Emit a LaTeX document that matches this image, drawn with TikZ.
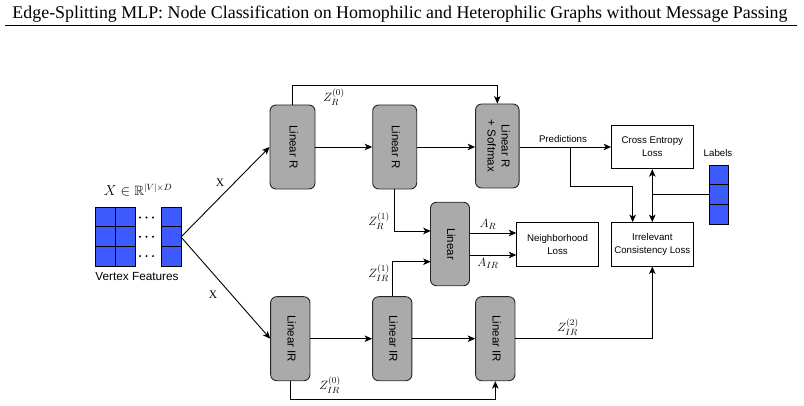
\documentclass[tikz,border=0pt]{standalone}
\usepackage{amsmath}
\usepackage{amssymb}
\usepackage{xcolor}
\usepackage{graphicx}
\usepackage[no-math]{fontspec}
\setmainfont{Liberation Serif}
\setsansfont{Liberation Sans}
\usetikzlibrary{arrows.meta,calc}
\definecolor{featblue}{RGB}{61,90,254}
\definecolor{boxgray}{RGB}{170,170,170}
\newcommand{\vtext}[1]{\rotatebox{-90}{\begin{tabular}{@{}c@{}}#1\end{tabular}}}
\tikzset{
  layer/.style={draw=black!85, fill=boxgray, rounded corners=6pt, line width=0.9pt, inner sep=0pt,
    minimum height=84, font=\sffamily\fontsize{11.5}{14}\selectfont},
  loss/.style={draw, fill=white, line width=0.9pt, inner sep=0pt, align=center,
    minimum width=81.5, minimum height=43.5, font=\sffamily\fontsize{9.7}{13}\selectfont},
  cell/.style={draw, fill=featblue, line width=0.8pt},
  lbl/.style={font=\fontsize{13}{14}\selectfont},
  small/.style={font=\sffamily\fontsize{9.7}{12}\selectfont},
  conn/.style={line width=0.9pt, >={Stealth[length=7.5pt,width=6.5pt,inset=2pt]}}
}

\begin{document}
\begin{tikzpicture}[x=1pt, y=-1pt]
  \useasboundingbox (0,0) rectangle (804,406);
  % \draw[help lines] (0,0) grid[step=50] (804,406);
  \node[anchor=base west, font=\fontsize{17.9}{20}\selectfont, inner sep=0pt] (title) at (12.3,19)
    {Edge-Splitting MLP: Node Classification on Homophilic and Heterophilic Graphs without Message Passing};
  \draw[line width=0.9pt] (5,25) -- (797,25);

  % vertex features
  \foreach \x in {95,115,161}
    \foreach \r in {0,1,2}
      \draw[cell] (\x,207+19.7*\r) rectangle ++(20,19.7);
  \foreach \r in {0,1,2}
    \foreach \d in {140,146.5,153}
      \fill (\d,217.5+19.3*\r) circle (1.1);
  \coordinate (feat) at (181,237);
  \node[font=\fontsize{13.5}{15}\selectfont] (xdim) at (138,190) {$X \in \mathbb{R}^{|V|\times D}$};
  \node[font=\sffamily\fontsize{11.8}{13}\selectfont] (vf) at (137,276) {Vertex Features};

  % layers
  \node[layer, minimum width=45] (lr1) at (292.5,147) {\vtext{Linear R}};
  \node[layer, minimum width=44] (lr2) at (394.7,147) {\vtext{Linear R}};
  \node[layer, minimum width=43.5] (lrs) at (497.3,146) {\vtext{Linear R\\+ Softmax}};
  \node[layer, minimum width=39, minimum height=83.5] (lin) at (450,244) {\vtext{Linear}};
  \node[layer, minimum width=39.3] (lir1) at (290.3,338.7) {\vtext{Linear IR}};
  \node[layer, minimum width=39.3] (lir2) at (392.2,338.7) {\vtext{Linear IR}};
  \node[layer, minimum width=39.3] (lir3) at (495.3,338.7) {\vtext{Linear IR}};

  % losses
  \node[loss] (ce) at (652.3,147) {Cross Entropy\\Loss};
  \node[loss] (ic) at (652.3,244.3) {Irrelevant\\Consistency Loss};
  \node[loss] (nl) at (557.5,244.3) {Neighborhood\\Loss};

  % labels
  \node[minimum width=19.7, minimum height=59.4, inner sep=0pt] (lab) at (718.8,194.7) {};
  \foreach \r in {0,1,2}
    \draw[cell] (709,165+19.8*\r) rectangle ++(19.7,19.8);
  \node[small] (labtxt) at (718,153) {Labels};

  % connectors
  \draw[conn,->] (feat) -- (lr1.west);
  \draw[conn,->] (feat) -- (lir1.west);
  \node[font=\fontsize{11.5}{12}\selectfont] (xa) at (220,183) {X};
  \node[font=\fontsize{11.5}{12}\selectfont] (xb) at (213,295) {X};

  \draw[conn,->] (lr1) -- (lr2);
  \draw[conn,->] (lr2.east) -- (lr2.east -| lrs.west);
  \draw[conn,->] (lr1.north) -- ++(0,-19.3) -| (lrs.north);
  \node[lbl] (zr0) at (334,97) {$Z_R^{(0)}$};

  \draw[conn,->] (lrs.east |- ce.west) -- (ce.west);
  \node[small] (pred) at (563,139) {Predictions};
  \coordinate (psplit) at (570,147);
  \coordinate (pbend) at (632.7,186);
  \draw[conn,->] (psplit) |- (pbend) -- (pbend |- ic.north);
  \draw[conn,<->] (ce) -- (ic);
  \draw[conn] (lab.west) -- (lab.west -| ic.north);

  \coordinate (linin1) at (430.7,231);
  \coordinate (linin2) at (430.7,261.7);
  \draw[conn,->] (lr2.south) |- (linin1);
  \draw[conn,->] (lir2.north) |- (linin2);
  \node[lbl] (zr1) at (379,221) {$Z_R^{(1)}$};
  \node[lbl] (zir1) at (379,273) {$Z_{IR}^{(1)}$};

  \draw[conn,->] ([yshift=11pt]lin.east) -- ([yshift=11pt]lin.east -| nl.west);
  \draw[conn,->] ([yshift=-11pt]lin.east) -- ([yshift=-11pt]lin.east -| nl.west);
  \node[lbl] (ar) at (488,224) {$A_R$};
  \node[lbl] (air) at (488,263) {$A_{IR}$};

  \draw[conn,->] (lir1) -- (lir2);
  \draw[conn,->] (lir2) -- (lir3);
  \draw[conn,->] (lir1.south) -- ++(0,18.3) -| (lir3.south);
  \node[lbl] (zir0) at (330,385) {$Z_{IR}^{(0)}$};
  \draw[conn,->] (lir3.east) -| (ic.south);
  \node[lbl] (zir2) at (568,327) {$Z_{IR}^{(2)}$};
\end{tikzpicture}
\end{document}
